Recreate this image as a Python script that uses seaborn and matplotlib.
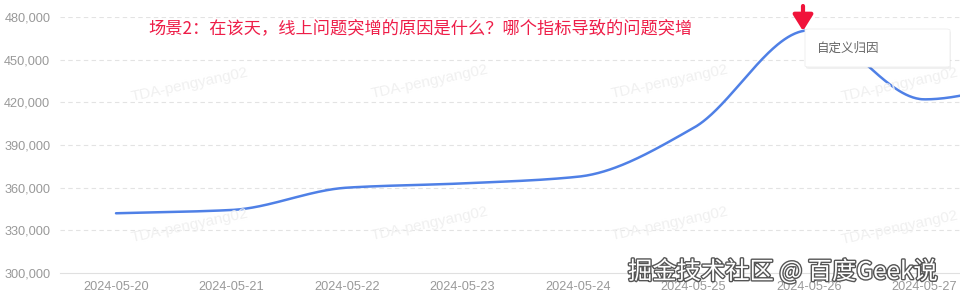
import numpy as np
import pandas as pd
import matplotlib
matplotlib.use("Agg")
import matplotlib.pyplot as plt
import seaborn as sns
from matplotlib.patches import FancyBboxPatch
import matplotlib.patheffects as pe

dates = ["2024-05-20", "2024-05-21", "2024-05-22", "2024-05-23", "2024-05-24",
         "2024-05-25", "2024-05-26", "2024-05-27", "2024-05-28"]
values = [342000, 344300, 360000, 363000, 367700, 402000, 470600, 422100, 438000]
yticks = [300000, 330000, 360000, 390000, 420000, 450000, 480000]
title_text = "场景2：在该天，线上问题突增的原因是什么？哪个指标导致的问题突增"
tooltip_text = "自定义归因"
watermark_text = "TDA-pengyang02"
credit_text = "掘金技术社区 @ 百度Geek说"


def pchip(x, y, xs):
    x = np.asarray(x, float); y = np.asarray(y, float)
    h = np.diff(x); d = np.diff(y) / h
    n = len(x); m = np.zeros(n)
    for k in range(1, n - 1):
        if d[k - 1] * d[k] > 0:
            w1 = 2 * h[k] + h[k - 1]; w2 = h[k] + 2 * h[k - 1]
            m[k] = (w1 + w2) / (w1 / d[k - 1] + w2 / d[k])
    m[0] = d[0]; m[-1] = d[-1]
    out = np.empty_like(xs)
    for i, xv in enumerate(xs):
        k = min(max(np.searchsorted(x, xv) - 1, 0), n - 2)
        t = (xv - x[k]) / h[k]
        h00 = 2*t**3 - 3*t**2 + 1; h10 = t**3 - 2*t**2 + t
        h01 = -2*t**3 + 3*t**2; h11 = t**3 - t**2
        out[i] = h00*y[k] + h10*h[k]*m[k] + h01*y[k+1] + h11*h[k]*m[k+1]
    return out


sns.set_theme(style="white")
plt.rcParams['font.family'] = ['Liberation Sans', 'Noto Sans CJK SC', 'DejaVu Sans']

W, H = 960, 302
fig = plt.figure(figsize=(W / 100, H / 100), dpi=100)
ax = fig.add_axes([60 / W, (H - 273) / H, 900 / W, 256 / H])

xi = np.arange(len(dates))
xs = np.linspace(0, len(dates) - 1, 800)
df = pd.DataFrame({"x": xs, "y": pchip(xi, values, xs)})
sns.lineplot(data=df, x="x", y="y", ax=ax, color="#4f80e6", linewidth=1.8, zorder=3)

ax.set_yticks(yticks)
ax.set_yticklabels([f"{v:,}" for v in yticks], fontsize=9.2, color="#999999")
ax.set_xticks(xi)
ax.set_xticklabels(dates, fontsize=9.2, color="#999999")
ax.set_xlim(-(116 - 60) / 115.5, (960 - 116) / 115.5)
ax.set_ylim(300000, 480000)
ax.set_xlabel(""); ax.set_ylabel("")
ax.tick_params(axis="x", length=0, pad=6)
ax.tick_params(axis="y", length=0, pad=7)
for v in yticks[1:]:
    ax.axhline(v, color="#e3e3e3", linewidth=0.8, linestyle=(0, (4, 3)), zorder=1)
for s in ["top", "right", "left"]:
    ax.spines[s].set_visible(False)
ax.spines["bottom"].set_color("#e0e0e0")
ax.spines["bottom"].set_linewidth(0.8)
ax.patch.set_alpha(0)

# faint watermarks
for (px, py) in [(190, 85), (430, 82), (670, 82), (900, 85), (190, 226), (430, 224), (670, 224), (900, 228)]:
    fig.text(px / W, 1 - py / H, watermark_text, fontsize=11, color="#f0f0f0",
             rotation=12, ha="center", va="center", zorder=0)

# title
fig.text(148 / W, 1 - 28 / H, title_text, fontsize=12.4, color="#ee1d48",
         family=['Noto Sans CJK SC', 'DejaVu Sans'], ha="left", va="center")

# red arrow
ax.annotate("", xy=(803 / W, 1 - 31 / H), xytext=(803 / W, 1 - 6 / H),
            xycoords="figure fraction", textcoords="figure fraction",
            arrowprops=dict(arrowstyle="-|>,head_width=0.5,head_length=0.8",
                            color="#f0133a", lw=3, shrinkA=0, shrinkB=0),
            annotation_clip=False, zorder=10)

# tooltip box with shadow
shadow = FancyBboxPatch((806 / W, 1 - 69 / H), 145 / W, 38 / H,
                        boxstyle="round,pad=0,rounding_size=0.004",
                        transform=fig.transFigure, facecolor="#000000", alpha=0.06,
                        edgecolor="none", zorder=8)
box = FancyBboxPatch((805 / W, 1 - 67 / H), 145 / W, 38 / H,
                     boxstyle="round,pad=0,rounding_size=0.004",
                     transform=fig.transFigure, facecolor="white",
                     edgecolor="#eeeeee", linewidth=0.6, zorder=9)
fig.patches.extend([shadow, box])
fig.text(817 / W, 1 - 48 / H, tooltip_text, fontsize=9, color="#666666",
         family=['Noto Sans CJK SC', 'DejaVu Sans'], ha="left", va="center", zorder=11)

# credit watermark
fig.text(628 / W, 1 - 272 / H, credit_text, fontsize=17.5, color="white",
         family=['Noto Sans CJK SC', 'DejaVu Sans'], ha="left", va="center", zorder=12,
         path_effects=[pe.withStroke(linewidth=2, foreground="#555555")])

fig.savefig("out.png", dpi=100)
